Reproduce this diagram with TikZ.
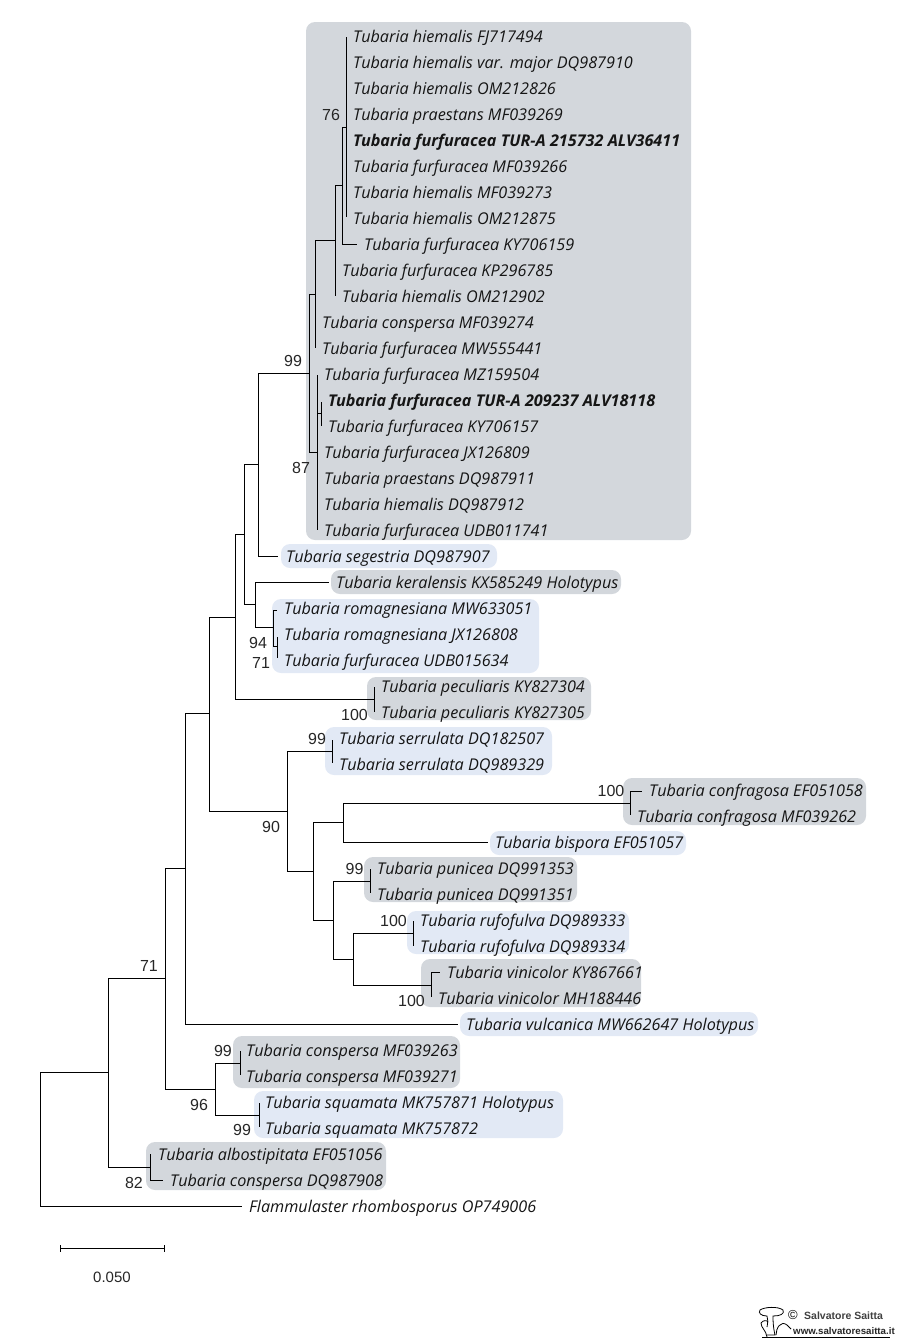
\documentclass[tikz,border=0pt]{standalone}
\usepackage{fontspec}
\setmainfont{Open Sans}[Kerning=Off,Numbers=Monospaced]
\newfontfamily\supfont{Liberation Sans}
\definecolor{grayband}{HTML}{D3D7DC}
\definecolor{blueband}{HTML}{E2E9F5}
\definecolor{inktext}{HTML}{151515}
\tikzset{
  px/.style={x=1pt,y=-1pt},
  taxon/.style={anchor=base west,inner sep=0pt,text=inktext,font=\fontsize{16.2}{16}\selectfont\itshape},
  taxonbold/.style={taxon,font=\fontsize{16.2}{16}\selectfont\itshape\bfseries},
  sup/.style={inner sep=0pt,text=black!85,font=\supfont\fontsize{16}{16}\selectfont},
  branch/.style={draw=black,line width=1pt,line cap=butt},
  gband/.style={fill=grayband,rounded corners=9pt},
  bband/.style={fill=blueband,rounded corners=9pt},
}
\newcommand{\tx}[4][taxon]{\node[#1,yshift=-6pt] (#2) at #3 {#4};}
\newcommand{\band}[5]{\fill[#1] (#2,#4) rectangle (#3,#5);}
\begin{document}
\begin{tikzpicture}[px]
\useasboundingbox (0,0) rectangle (900,1344);
% bands
\band{gband}{306}{691}{22}{540}
\band{bband}{281}{497}{544}{568}
\band{gband}{331}{621}{570}{594}
\band{bband}{272}{539}{599}{673}
\band{gband}{367}{591}{677}{720}
\band{bband}{325}{552}{727}{775}
\band{gband}{623}{866}{778}{825}
\band{bband}{490}{686}{831}{855}
\band{gband}{364}{577}{857}{902}
\band{bband}{407}{629}{911}{954}
\band{gband}{421}{641}{959}{1007}
\band{bband}{460}{758}{1012}{1036}
\band{gband}{233}{460}{1036}{1088}
\band{bband}{254}{563}{1091}{1138}
\band{gband}{146}{386}{1142}{1190}
% taxa
\tx{t01}{(353,36)}{Tubaria hiemalis FJ717494}
\tx{t02}{(353,62)}{Tubaria hiemalis var. major DQ987910}
\tx{t03}{(353,88)}{Tubaria hiemalis OM212826}
\tx{t04}{(353,114)}{Tubaria praestans MF039269}
\tx[taxonbold]{t05}{(353,140)}{Tubaria furfuracea TUR-A 215732 ALV36411}
\tx{t06}{(353,166)}{Tubaria furfuracea MF039266}
\tx{t07}{(353,192)}{Tubaria hiemalis MF039273}
\tx{t08}{(353,218)}{Tubaria hiemalis OM212875}
\tx{t09}{(364,244)}{Tubaria furfuracea KY706159}
\tx{t10}{(342,270)}{Tubaria furfuracea KP296785}
\tx{t11}{(342,296)}{Tubaria hiemalis OM212902}
\tx{t12}{(322,322)}{Tubaria conspersa MF039274}
\tx{t13}{(322,348)}{Tubaria furfuracea MW555441}
\tx{t14}{(324,374)}{Tubaria furfuracea MZ159504}
\tx[taxonbold]{t15}{(328,400)}{Tubaria furfuracea TUR-A 209237 ALV18118}
\tx{t16}{(328,426)}{Tubaria furfuracea KY706157}
\tx{t17}{(324,452)}{Tubaria furfuracea JX126809}
\tx{t18}{(324,478)}{Tubaria praestans DQ987911}
\tx{t19}{(324,504)}{Tubaria hiemalis DQ987912}
\tx{t20}{(324,530)}{Tubaria furfuracea UDB011741}
\tx{t21}{(286,556)}{Tubaria segestria DQ987907}
\tx{t22}{(336,582)}{Tubaria keralensis KX585249 Holotypus}
\tx{t23}{(284,608)}{Tubaria romagnesiana MW633051}
\tx{t24}{(284,634)}{Tubaria romagnesiana JX126808}
\tx{t25}{(284,660)}{Tubaria furfuracea UDB015634}
\tx{t26}{(381,686)}{Tubaria peculiaris KY827304}
\tx{t27}{(381,712)}{Tubaria peculiaris KY827305}
\tx{t28}{(339,738)}{Tubaria serrulata DQ182507}
\tx{t29}{(339,764)}{Tubaria serrulata DQ989329}
\tx{t30}{(649,790)}{Tubaria confragosa EF051058}
\tx{t31}{(637,816)}{Tubaria confragosa MF039262}
\tx{t32}{(495,842)}{Tubaria bispora EF051057}
\tx{t33}{(377,868)}{Tubaria punicea DQ991353}
\tx{t34}{(377,894)}{Tubaria punicea DQ991351}
\tx{t35}{(420,920)}{Tubaria rufofulva DQ989333}
\tx{t36}{(420,946)}{Tubaria rufofulva DQ989334}
\tx{t37}{(447,972)}{Tubaria vinicolor KY867661}
\tx{t38}{(438,998)}{Tubaria vinicolor MH188446}
\tx{t39}{(466,1024)}{Tubaria vulcanica MW662647 Holotypus}
\tx{t40}{(246,1050)}{Tubaria conspersa MF039263}
\tx{t41}{(246,1076)}{Tubaria conspersa MF039271}
\tx{t42}{(265,1102)}{Tubaria squamata MK757871 Holotypus}
\tx{t43}{(265,1128)}{Tubaria squamata MK757872}
\tx{t44}{(158,1154)}{Tubaria albostipitata EF051056}
\tx{t45}{(170,1180)}{Tubaria conspersa DQ987908}
\tx{t46}{(249,1206)}{Flammulaster rhombosporus OP749006}
% internal nodes: (x of the vertical, y of the stem)
\coordinate (root) at (40.5,1072);
\coordinate (nA) at (108.5,1072);
\coordinate (nB) at (165.5,978);
\coordinate (nC) at (185.5,868);
\coordinate (nD) at (209.5,713);
\coordinate (nE) at (235.5,617);
\coordinate (nF) at (244.5,534);
\coordinate (nG) at (258.5,464);
\coordinate (nH) at (309.5,373);
\coordinate (nI) at (315.5,294);
\coordinate (nJ) at (335.5,240);
\coordinate (nK) at (342.5,185);
\coordinate (nL) at (346.5,127);
\coordinate (nM) at (317.5,452.5);
\coordinate (nN) at (321.5,413);
\coordinate (nO) at (255.5,604.5);
\coordinate (nP) at (273.5,627.5);
\coordinate (nQ) at (277.5,646.5);
\coordinate (nR) at (374.5,699.5);
\coordinate (nS) at (287.5,811);
\coordinate (nT) at (332.5,751.5);
\coordinate (nU) at (313.5,871);
\coordinate (nV) at (343.5,822.5);
\coordinate (nW) at (630.5,803);
\coordinate (nX) at (333.5,920.5);
\coordinate (nY) at (370.5,881.5);
\coordinate (nZ) at (353.5,959.5);
\coordinate (nAa) at (413.5,933.5);
\coordinate (nAb) at (431.5,985.5);
\coordinate (nAc) at (215.5,1089.5);
\coordinate (nAd) at (240.5,1063.5);
\coordinate (nAe) at (259.5,1115.5);
\coordinate (nAf) at (150.5,1167.5);
% tip ends
\coordinate (e01) at (346.5,37);
\coordinate (e08) at (346.5,217);
\coordinate (e09) at (357,244);
\coordinate (e10) at (335.5,296);
\coordinate (e13) at (315.5,348);
\coordinate (e14) at (317.5,375);
\coordinate (e20) at (317.5,530);
\coordinate (e15) at (321.5,402);
\coordinate (e16) at (321.5,426);
\coordinate (e21) at (277.5,556);
\coordinate (e22) at (328.5,582);
\coordinate (e23) at (276.7,610);
\coordinate (e24) at (277.5,637);
\coordinate (e25) at (277.5,658);
\coordinate (e26) at (374.5,687);
\coordinate (e27) at (374.5,712);
\coordinate (e28) at (332.5,740);
\coordinate (e29) at (332.5,763);
\coordinate (e30) at (641.5,791);
\coordinate (e31) at (630.5,815);
\coordinate (e32) at (488,842.5);
\coordinate (e33) at (370.5,869);
\coordinate (e34) at (370.5,893);
\coordinate (e35) at (413.5,921);
\coordinate (e36) at (413.5,946);
\coordinate (e37) at (440,972.5);
\coordinate (e38) at (431.5,997);
\coordinate (e39) at (458,1024.5);
\coordinate (e40) at (240.5,1051);
\coordinate (e41) at (240.5,1075);
\coordinate (e42) at (259.5,1103);
\coordinate (e43) at (259.5,1127);
\coordinate (e44) at (150.5,1154);
\coordinate (e45) at (163,1180.5);
\coordinate (e46) at (242,1206.5);
% branches
\begin{scope}[branch]
\draw (root) |- (nA);
\draw (root) |- (e46);
\draw (nA) |- (nB);
\draw (nA) |- (nAf);
\draw (nB) |- (nC);
\draw (nB) |- (nAc);
\draw (nC) |- (nD);
\draw (nC) |- (e39);
\draw (nD) |- (nE);
\draw (nD) |- (nS);
\draw (nE) |- (nF);
\draw (nE) |- (nR);
\draw (nF) |- (nG);
\draw (nF) |- (nO);
\draw (nG) |- (nH);
\draw (nG) |- (e21);
\draw (nH) |- (nI);
\draw (nH) |- (nM);
\draw (nI) |- (nJ);
\draw (nI) -- (e13);
\draw (nJ) |- (nK);
\draw (nJ) -- (e10);
\draw (nK) |- (nL);
\draw (nK) |- (e09);
\draw (e01) -- (e08);
\draw (e14) -- (e20);
\draw (nM) |- (nN);
\draw (e15) -- (e16);
\draw (nO) |- (e22);
\draw (nO) |- (nP);
\draw (nP) |- (e23);
\draw (nP) |- (nQ);
\draw (e24) -- (e25);
\draw (e26) -- (e27);
\draw (nS) |- (nT);
\draw (nS) |- (nU);
\draw (e28) -- (e29);
\draw (nU) |- (nV);
\draw (nU) |- (nX);
\draw (nV) |- (nW);
\draw (nV) |- (e32);
\draw (nW) |- (e30);
\draw (nW) -- (e31);
\draw (nX) |- (nY);
\draw (nX) |- (nZ);
\draw (e33) -- (e34);
\draw (nZ) |- (nAa);
\draw (nZ) |- (nAb);
\draw (e35) -- (e36);
\draw (nAb) |- (e37);
\draw (nAb) -- (e38);
\draw (nAc) |- (nAd);
\draw (nAc) |- (nAe);
\draw (e40) -- (e41);
\draw (e42) -- (e43);
\draw (nAf) |- (e44);
\draw (nAf) |- (e45);
\end{scope}
% support values
\node[sup] (s1) at (331,115) {76};
\node[sup] (s2) at (293,361) {99};
\node[sup] (s3) at (301,468) {87};
\node[sup] (s4) at (258,643) {94};
\node[sup] (s5) at (261,663) {71};
\node[sup] (s6) at (354.5,715) {100};
\node[sup] (s7) at (317,739) {99};
\node[sup] (s8) at (611,791) {100};
\node[sup] (s9) at (271,827) {90};
\node[sup] (s10) at (354.5,869) {99};
\node[sup] (s11) at (393.5,921) {100};
\node[sup] (s12) at (411.5,1001) {100};
\node[sup] (s13) at (149,966) {71};
\node[sup] (s14) at (223,1051) {99};
\node[sup] (s15) at (199,1105) {96};
\node[sup] (s16) at (242,1130) {99};
\node[sup] (s17) at (134,1183) {82};
% scale bar
\coordinate (b1) at (60.5,1248.5);
\coordinate (b2) at (164.5,1248.5);
\draw[branch] (b1) -- (b2);
\draw[branch] ([yshift=3.5pt]b1) -- ([yshift=-3.5pt]b1);
\draw[branch] ([yshift=3.5pt]b2) -- ([yshift=-3.5pt]b2);
\node[sup,font=\supfont\fontsize{15}{15}\selectfont] (sc) at (112,1277) {0.050};
% logo
\draw[line width=.8pt,fill=white] (767,1327) .. controls (768,1322) and (768,1319) .. (767,1316)
  .. controls (761,1316) and (758,1313) .. (760,1310)
  .. controls (764,1307) and (778,1306) .. (783,1310)
  .. controls (785,1314) and (780,1316) .. (773,1316)
  .. controls (773,1321) and (773,1326) .. (775,1335) -- (767,1335);
\draw[line width=.8pt] (761,1323) .. controls (763,1320) and (767,1320) .. (768,1322);
\draw[line width=.8pt] (761,1323) .. controls (761,1328) and (766,1330) .. (767,1337);
\draw[line width=.8pt] (776,1335) .. controls (776,1328) and (781,1320) .. (787,1325) -- (791,1329);
\draw[line width=1pt] (762,1337.5) -- (890,1337.5);
\node[inner sep=0pt,anchor=west,font=\supfont\fontsize{13}{13}\selectfont] (l1) at (788,1315) {©};
\node[inner sep=0pt,anchor=west,font=\supfont\bfseries\fontsize{10.5}{10}\selectfont,text=black!75] (l2) at (804,1316) {Salvatore Saitta};
\node[inner sep=0pt,anchor=west,font=\supfont\bfseries\fontsize{9.7}{10}\selectfont,text=black!85] (l3) at (793,1331) {www.salvatoresaitta.it};
\end{tikzpicture}
\end{document}
